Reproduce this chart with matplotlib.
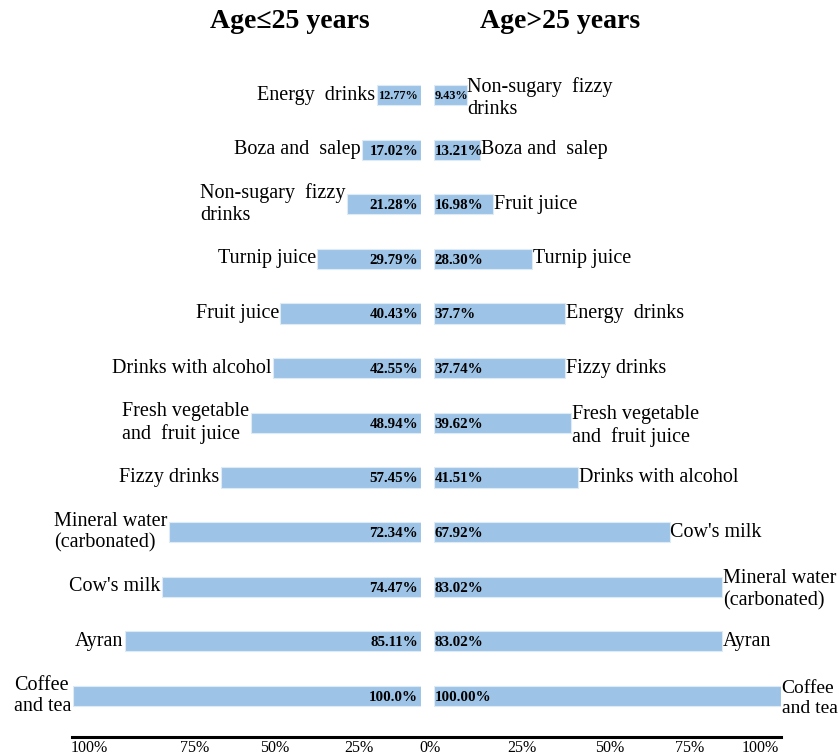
import matplotlib
matplotlib.use("Agg")
import matplotlib.pyplot as plt

plt.rcParams['font.family'] = ['Liberation Serif', 'DejaVu Serif']

# Left panel (Age <= 25), top to bottom
left_cats = ["Energy  drinks", "Boza and  salep", "Non-sugary  fizzy\ndrinks", "Turnip juice",
             "Fruit juice", "Drinks with alcohol", "Fresh vegetable\nand  fruit juice",
             "Fizzy drinks", "Mineral water\n(carbonated)", "Cow's milk", "Ayran", "Coffee\nand tea"]
left_vals = [12.77, 17.02, 21.28, 29.79, 40.43, 42.55, 48.94, 57.45, 72.34, 74.47, 85.11, 100.0]
left_labels = ["12.77%", "17.02%", "21.28%", "29.79%", "40.43%", "42.55%", "48.94%",
               "57.45%", "72.34%", "74.47%", "85.11%", "100.0%"]

# Right panel (Age > 25), top to bottom
right_cats = ["Non-sugary  fizzy\ndrinks", "Boza and  salep", "Fruit juice", "Turnip juice",
              "Energy  drinks", "Fizzy drinks", "Fresh vegetable\nand  fruit juice",
              "Drinks with alcohol", "Cow's milk", "Mineral water\n(carbonated)", "Ayran",
              "Coffee\nand tea"]
right_vals = [9.43, 13.21, 16.98, 28.30, 37.7, 37.74, 39.62, 41.51, 67.92, 83.02, 83.02, 100.0]
right_labels = ["9.43%", "13.21%", "16.98%", "28.30%", "37.7%", "37.74%", "39.62%",
                "41.51%", "67.92%", "83.02%", "83.02%", "100.00%"]

tick_labels = ["100%", "75%", "50%", "25%", "0%", "25%", "50%", "75%", "100%"]
tick_pos = [0.025, 0.173, 0.286, 0.404, 0.505, 0.635, 0.758, 0.871, 0.971]

bar_color = "#9DC3E6"
W, H = 839, 756
fig = plt.figure(figsize=(W / 100, H / 100), dpi=100)

ax_l = fig.add_axes([73 / W, (H - 723.3) / H, 348 / W, 655.6 / H])
ax_r = fig.add_axes([434 / W, (H - 723.3) / H, 347 / W, 655.6 / H])

rows = list(range(len(left_vals)))

for ax, vals, cats, labels, side in [(ax_l, left_vals, left_cats, left_labels, "left"),
                                     (ax_r, right_vals, right_cats, right_labels, "right")]:
    ax.barh(rows, vals, height=0.37, color=bar_color, edgecolor="#DDEBF7", linewidth=0.8)
    ax.set_xlim(0, 100)
    ax.set_ylim(11.5, -0.5)
    if side == "left":
        ax.invert_xaxis()
    ax.axis("off")
    for i, (v, c, lab) in enumerate(zip(vals, cats, labels)):
        fs = 8.8 if v < 13 else 10.8
        if side == "left":
            ax.annotate(c, xy=(v, i), xytext=(-1, 0), textcoords="offset points",
                        ha="right", va="center", fontsize=14.5, multialignment="left",
                        annotation_clip=False)
            ax.annotate(lab, xy=(0, i), xytext=(-2, -1), textcoords="offset points",
                        ha="right", va="center", fontsize=fs, fontweight="bold")
        else:
            ax.annotate(c, xy=(v, i), xytext=(0.5, 0 if "\n" not in c else -2),
                        textcoords="offset points",
                        ha="left", va="center", fontsize=14.5 if v < 100 else 14,
                        multialignment="left", annotation_clip=False)
            ax.annotate(lab, xy=(0, i), xytext=(0.5, -1), textcoords="offset points",
                        ha="left", va="center", fontsize=fs, fontweight="bold")

# bottom axis line with tick labels
ax_b = fig.add_axes([72 / W, (H - 737) / H, 709 / W, 0.0001])
ax_b.set_xlim(0, 1)
ax_b.set_yticks([])
for s in ["top", "left", "right"]:
    ax_b.spines[s].set_visible(False)
ax_b.spines["bottom"].set_linewidth(2.2)
ax_b.set_xticks(tick_pos)
ax_b.set_xticklabels(tick_labels, fontsize=11.5)
ax_b.tick_params(axis="x", length=0, pad=2.5)

fig.text(290 / W, 1 - 22 / H, "Age\u226425 years", ha="center", va="center",
         fontsize=20, fontweight="bold")
fig.text(560 / W, 1 - 22 / H, "Age>25 years", ha="center", va="center",
         fontsize=20, fontweight="bold")

fig.savefig("out.png", dpi=100, facecolor="white")
